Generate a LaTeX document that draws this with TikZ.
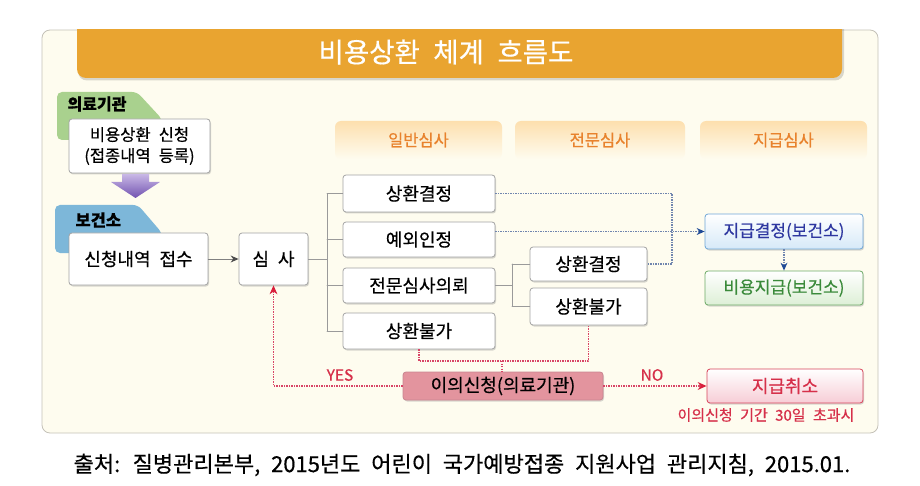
\documentclass[tikz,border=0pt]{standalone}
\usepackage{fontspec}
\setmainfont{Noto Sans CJK KR}[WordSpace=2.2,FakeBold=0.5]
\usepackage{xcolor}
\usetikzlibrary{arrows.meta,shadows,calc}
\definecolor{panelfill}{HTML}{FEFCEF}
\definecolor{panelline}{HTML}{C4C1B8}
\definecolor{titleorange}{HTML}{E9A430}
\definecolor{hdrtop}{HTML}{FDDFAE}
\definecolor{hdrtext}{HTML}{E8822C}
\definecolor{tabgreen}{HTML}{A9D18E}
\definecolor{tabblue}{HTML}{7DB7D9}
\definecolor{boxgray}{HTML}{A3A3A3}
\definecolor{arrowtop}{HTML}{C9B8E6}
\definecolor{arrowbot}{HTML}{7152B0}
\definecolor{payline}{HTML}{6FA6D6}
\definecolor{paytext}{HTML}{2E37A0}
\definecolor{payfill}{HTML}{D6E9F8}
\definecolor{paidline}{HTML}{6DAA66}
\definecolor{paidtext}{HTML}{3A8A3A}
\definecolor{paidfill}{HTML}{DDEFD6}
\definecolor{cancelline}{HTML}{D8455B}
\definecolor{canceltext}{HTML}{D6304A}
\definecolor{cancelfill}{HTML}{F7CDD6}
\definecolor{objfill}{HTML}{E3949E}
\definecolor{objline}{HTML}{C98590}
\definecolor{reddot}{HTML}{D84466}
\definecolor{redtip}{HTML}{D9203C}
\definecolor{bluedot}{HTML}{7085AE}
\definecolor{bluetip}{HTML}{1F4A96}
\definecolor{treegray}{HTML}{9A9A9A}
\tikzset{
  box/.style={draw=boxgray,fill=white,rounded corners=3pt,line width=0.8pt,inner sep=2pt,
    drop shadow={opacity=0.3,shadow xshift=1pt,shadow yshift=-1.5pt},font=\fontsize{18}{21}\selectfont},
  hdrbox/.style={rounded corners=6pt,top color=hdrtop,bottom color=panelfill,minimum width=167pt,minimum height=38pt,
    text=hdrtext,font=\fontsize{16.5}{19}\selectfont},
  paybox/.style={box,draw=payline,top color=white,bottom color=payfill,text=paytext,minimum width=158pt,minimum height=35pt,font=\fontsize{17}{20}\selectfont},
  treeline/.style={draw=treegray,line width=0.8pt},
  bluedotted/.style={draw=bluedot,line cap=butt,dash pattern=on 1.2pt off 1.3pt,line width=1.1pt},
  reddotted/.style={draw=reddot,line cap=butt,dash pattern=on 1.2pt off 1.3pt,line width=1.1pt},
  bluetipped/.style={-{Stealth[length=8pt,width=7pt,color=bluetip,fill=bluetip,line width=0pt]}},
  redtipped/.style={-{Stealth[length=9pt,width=8pt,color=redtip,fill=redtip,line width=0pt]}}
}
\begin{document}
\begin{tikzpicture}[line cap=round,line join=round,x=1pt,y=-1pt]
\useasboundingbox (0,0) rectangle (920,486);
\draw [panelline,fill=panelfill,line width=0.8pt,rounded corners=8pt] (42,30) rectangle (878,433);
\begin{scope}
\clip (0,30) rectangle (920,100);
\fill [black,opacity=0.15,rounded corners=9pt] (78,20) rectangle (844,80.5);
\fill [titleorange,rounded corners=9pt] (77,20) rectangle (842,78);
\end{scope}
\node [text=white,font=\fontsize{27.5}{30}\selectfont] (title) at (446,52) {비용상환 체계 흐름도};
\node [hdrbox] (hd1) at (418.5,140) {일반심사};
\node [hdrbox,minimum width=170pt] (hd2) at (600,140) {전문심사};
\node [hdrbox] (hd3) at (783.5,140) {지급심사};
\fill [tabgreen,rounded corners=5pt] (57,140) -- (57,92) -- (137,92) -- (162,119) -- (162,140) -- cycle;
\node [anchor=west,font=\bfseries\fontsize{16}{19}\selectfont] (clinic) at (64,104) {의료기관};
\node [box,minimum width=141pt,minimum height=54pt,align=center,font=\fontsize{16.5}{21}\selectfont] (req) at (139.5,146) {비용상환 신청\\(접종내역 등록)};
\shade [top color=arrowtop,bottom color=arrowbot] (122,174) -- (149,174) -- (149,182) -- (160,182) -- (135.5,198) -- (111,182) -- (122,182) -- cycle;
\fill [tabblue,rounded corners=5pt] (55,253) -- (55,205) -- (138,205) -- (162,233) -- (162,253) -- cycle;
\node [anchor=west,font=\bfseries\fontsize{16.5}{19}\selectfont] (center) at (72,220) {보건소};
\node [box,minimum width=139pt,minimum height=52pt] (recv) at (138.5,259) {신청내역 접수};
\node [box,minimum width=69pt,minimum height=52pt] (review) at (273.5,259) {심 사};
\node [box,minimum width=152pt,minimum height=37pt] (g1) at (419,193.5) {상환결정};
\node [box,minimum width=152pt,minimum height=35pt] (g2) at (419,239.5) {예외인정};
\node [box,minimum width=152pt,minimum height=35pt] (g3) at (419,285.5) {전문심사의뢰};
\node [box,minimum width=152pt,minimum height=36pt] (g4) at (419,331) {상환불가};
\node [box,minimum width=117pt,minimum height=34pt] (e1) at (588.5,264) {상환결정};
\node [box,minimum width=117pt,minimum height=37pt] (e2) at (588.5,306.5) {상환불가};
\node [paybox] (pay) at (784,231.5) {지급결정(보건소)};
\node [paybox,draw=paidline,bottom color=paidfill,text=paidtext,minimum height=34pt] (paid) at (784,288) {비용지급(보건소)};
\node [box,draw=objline,fill=objfill,minimum width=200pt,minimum height=28pt] (objection) at (503,386) {이의신청(의료기관)};
\node [paybox,draw=cancelline,bottom color=cancelfill,text=canceltext,minimum width=156pt,minimum height=34pt,font=\fontsize{18}{21}\selectfont] (cancel) at (785,386) {지급취소};
\node [text=canceltext,font=\fontsize{15}{17}\selectfont] (note) at (766,415) {이의신청 기간 30일 초과시};
\node [text=canceltext,font=\fontsize{15.5}{18}\selectfont] (yes) at (340,375) {YES};
\node [text=canceltext,font=\fontsize{15.5}{18}\selectfont] (no) at (652,375) {NO};
\coordinate (gfork) at (327,259);
\coordinate (efork) at (512,285.5);
\coordinate (paybend) at (672,193.5);
\coordinate (objbar) at (502,361);
\draw [draw=gray,line width=1pt,-{Stealth[length=8pt,width=7pt,color=black!70,fill=black!70]}] (recv) -- (review);
\draw [treeline] (review) -- (gfork);
\draw [treeline] (gfork |- g1) -- (gfork |- g4);
\foreach \n in {g1,g2,g3,g4}
  \draw [treeline] (gfork |- \n) -- (\n.west);
\draw [treeline] (g3) -- (efork);
\draw [treeline] (efork |- e1) -- (efork |- e2);
\draw [treeline] (efork |- e1) -- (e1.west);
\draw [treeline] (efork |- e2) -- (e2.west);
\draw [bluedotted] (g1) -- (paybend) -- (paybend |- e1) -- (e1);
\draw [bluedotted,bluetipped] (g2.east |- pay) -- (pay.west);
\draw [bluedotted,bluetipped] (pay) -- (paid);
\draw [reddotted] (g4.south) -- (g4.south |- objbar) -- (e2.south |- objbar) -- (e2.south);
\draw [reddotted] (objbar) -- (objection.north -| objbar);
\draw [reddotted,redtipped] (objection.west) -- (review.south |- objection.west) -- (review.south);
\draw [reddotted,redtipped] (objection.east) -- (cancel.west);
\node [font=\fontsize{22}{25}\selectfont] (source) at (462,465) {출처: 질병관리본부, 2015년도 어린이 국가예방접종 지원사업 관리지침, 2015.01.};
\end{tikzpicture}
\end{document}
